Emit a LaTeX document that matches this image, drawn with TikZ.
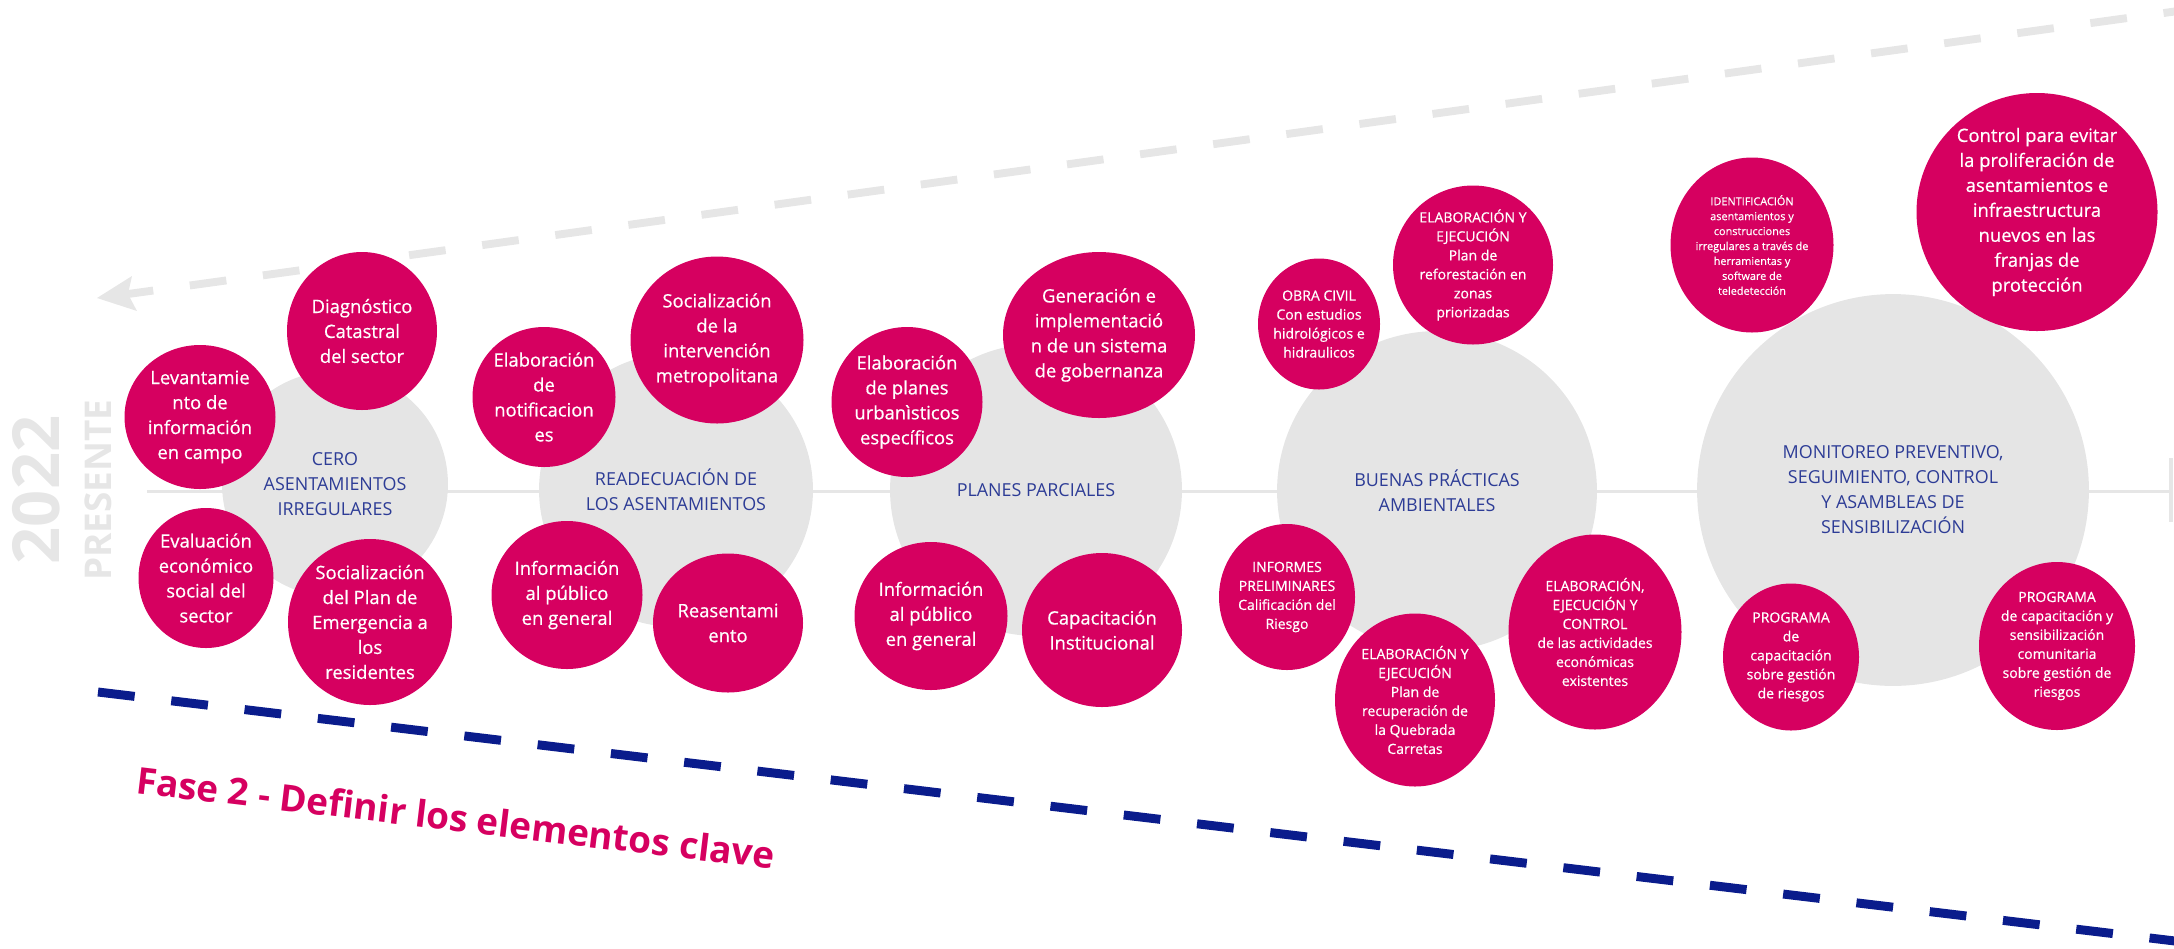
\documentclass[tikz,border=0pt]{standalone}
\usepackage{fontspec}
\setmainfont{Open Sans}
\newfontfamily\semib{Open Sans}[FakeBold=0.6]
\usetikzlibrary{shapes.geometric}
\definecolor{rosa}{RGB}{214,0,96}
\definecolor{gris}{RGB}{229,229,229}
\definecolor{grisclaro}{RGB}{230,230,230}
\definecolor{azul}{RGB}{10,28,140}
\definecolor{azultexto}{RGB}{45,60,150}
\begin{document}
\begin{tikzpicture}[x=0.02cm, y=-0.02cm,
    hub/.style={circle, fill=gris, inner sep=0pt, minimum size=#1*0.04cm, text=azultexto, align=center, font=\fontsize{10.2}{14.2}\selectfont},
    bubble/.style 2 args={ellipse, fill=rosa, inner sep=-20pt, minimum width=#1*0.02cm, minimum height=#2*0.02cm, text=white, align=center, font=\semib\fontsize{10.5}{14.2}\selectfont},
    smalltext/.style={font=\semib\fontsize{8}{10.8}\selectfont},
    tinytext/.style={font=\semib\fontsize{6.2}{8.5}\selectfont}]
    \useasboundingbox (0,0) rectangle (2174,948);
    \clip (0,0) rectangle (2174,948);

    % lines behind the bubbles
    \coordinate (ejeA) at (147,491);
    \coordinate (ejeB) at (2171,491);
    \coordinate (topeA) at (2171,458);
    \coordinate (topeB) at (2171,522);
    \coordinate (flechaA) at (2200,8);
    \coordinate (muesca) at (128,294);
    \coordinate (punta) at (97,298);
    \coordinate (barbaA) at (132,276);
    \coordinate (barbaB) at (137,311);
    \coordinate (limiteA) at (98,692);
    \coordinate (limiteB) at (2200,944);
    \draw [line width=1.7pt, grisclaro] (ejeA) -- (ejeB);
    \draw [line width=2.8pt, grisclaro] (topeA) -- (topeB);
    \draw [line width=4.5pt, grisclaro, dash pattern=on 21pt off 21pt] (flechaA) -- (muesca);
    \fill [grisclaro] (punta) -- (barbaA) -- (muesca) -- (barbaB) -- cycle;
    \draw [line width=5.1pt, azul, dash pattern=on 21pt off 21pt] (limiteA) -- (limiteB);

    \node (anio) [rotate=90, text=grisclaro, font=\fontsize{37}{37}\selectfont\bfseries] at (36,490) {2022};
    \node (presente) [rotate=90, text=grisclaro, font=\fontsize{21}{21}\selectfont\bfseries] at (98,490) {PRESENTE};
    \node (fase) [anchor=base west, rotate=-6.8, inner sep=0pt, text=rosa, font=\fontsize{21}{21}\selectfont\bfseries] at (135,793) {Fase 2 - Definir los elementos clave};

    % hubs
    \node (cero) [hub=113] at (335,484) {CERO\\ASENTAMIENTOS\\IRREGULARES};
    \node (readec) [hub=137] at (676,490) {READECUACIÓN DE\\LOS ASENTAMIENTOS};
    \node (planes) [hub=146] at (1036,490) {PLANES PARCIALES};
    \node (buenas) [hub=160] at (1437,491) {BUENAS PRÁCTICAS\\AMBIENTALES};
    \node (monit) [hub=196] at (1893,490) {MONITOREO PREVENTIVO,\\SEGUIMIENTO, CONTROL\\Y ASAMBLEAS DE\\SENSIBILIZACIÓN};

    % cero asentamientos
    \node (lev) [bubble={151}{144}] at (200,417) {Levantamie\\nto de\\información\\en campo};
    \node (dia) [bubble={150}{158}] at (362,331) {Diagnóstico\\Catastral\\del sector};
    \node (eva) [bubble={135}{140}] at (206,578) {Evaluación\\económico\\social del\\sector};
    \node (spe) [bubble={164}{166}] at (370,622) {Socialización\\del Plan de\\Emergencia a\\los\\residentes};

    % readecuacion
    \node (not) [bubble={143}{140}] at (544,397) {Elaboración\\de\\notificacion\\es};
    \node (sim) [bubble={173}{167}] at (717,340) {Socialización\\de la\\intervención\\metropolitana};
    \node (inf1) [bubble={151}{148}] at (567,595) {Información\\al público\\en general};
    \node (rea) [bubble={150}{139}] at (728,623) {Reasentami\\ento};

    % planes parciales
    \node (epu) [bubble={151}{150}] at (907,402) {Elaboración\\de planes\\urbanìsticos\\específicos};
    \node (gen) [bubble={192}{166}] at (1099,335) {Generación e\\implementació\\n de un sistema\\de gobernanza};
    \node (inf2) [bubble={153}{148}] at (931,616) {Información\\al público\\en general};
    \node (cap) [bubble={160}{154}] at (1102,630) {Capacitación\\Institucional};

    % buenas practicas
    \node (obr) [bubble={122}{131}, smalltext] at (1319,324) {OBRA CIVIL\\Con estudios\\hidrológicos e\\hidraulicos};
    \node (ref) [bubble={160}{159}, smalltext] at (1473,265) {ELABORACIÓN Y\\EJECUCIÓN\\Plan de\\reforestación en\\zonas\\priorizadas};
    \node (ipr) [bubble={136}{146}, smalltext] at (1287,597) {INFORMES\\PRELIMINARES\\Calificación del\\Riesgo};
    \node (rec) [bubble={160}{173}, smalltext] at (1415,700) {ELABORACIÓN Y\\EJECUCIÓN\\Plan de\\recuperación de\\la Quebrada\\Carretas};
    \node (ctl) [bubble={173}{195}, smalltext] at (1595,632) {ELABORACIÓN,\\EJECUCIÓN Y\\CONTROL\\de las actividades\\económicas\\existentes};

    % monitoreo
    \node (ide) [bubble={163}{175}, tinytext] at (1752,245) {IDENTIFICACIÓN\\asentamientos y\\construcciones\\irregulares a través de\\herramientas y\\software de\\teledetección};
    \node (cpe) [bubble={241}{238}] at (2037,212) {Control para evitar\\la proliferación de\\asentamientos e\\infraestructura\\nuevos en las\\franjas de\\protección};
    \node (pg1) [bubble={136}{147}, smalltext] at (1791,657) {PROGRAMA\\de\\capacitación\\sobre gestión\\de riesgos};
    \node (pg2) [bubble={156}{168}, smalltext] at (2057,646) {PROGRAMA\\de capacitación y\\sensibilización\\comunitaria\\sobre gestión de\\riesgos};
\end{tikzpicture}
\end{document}
